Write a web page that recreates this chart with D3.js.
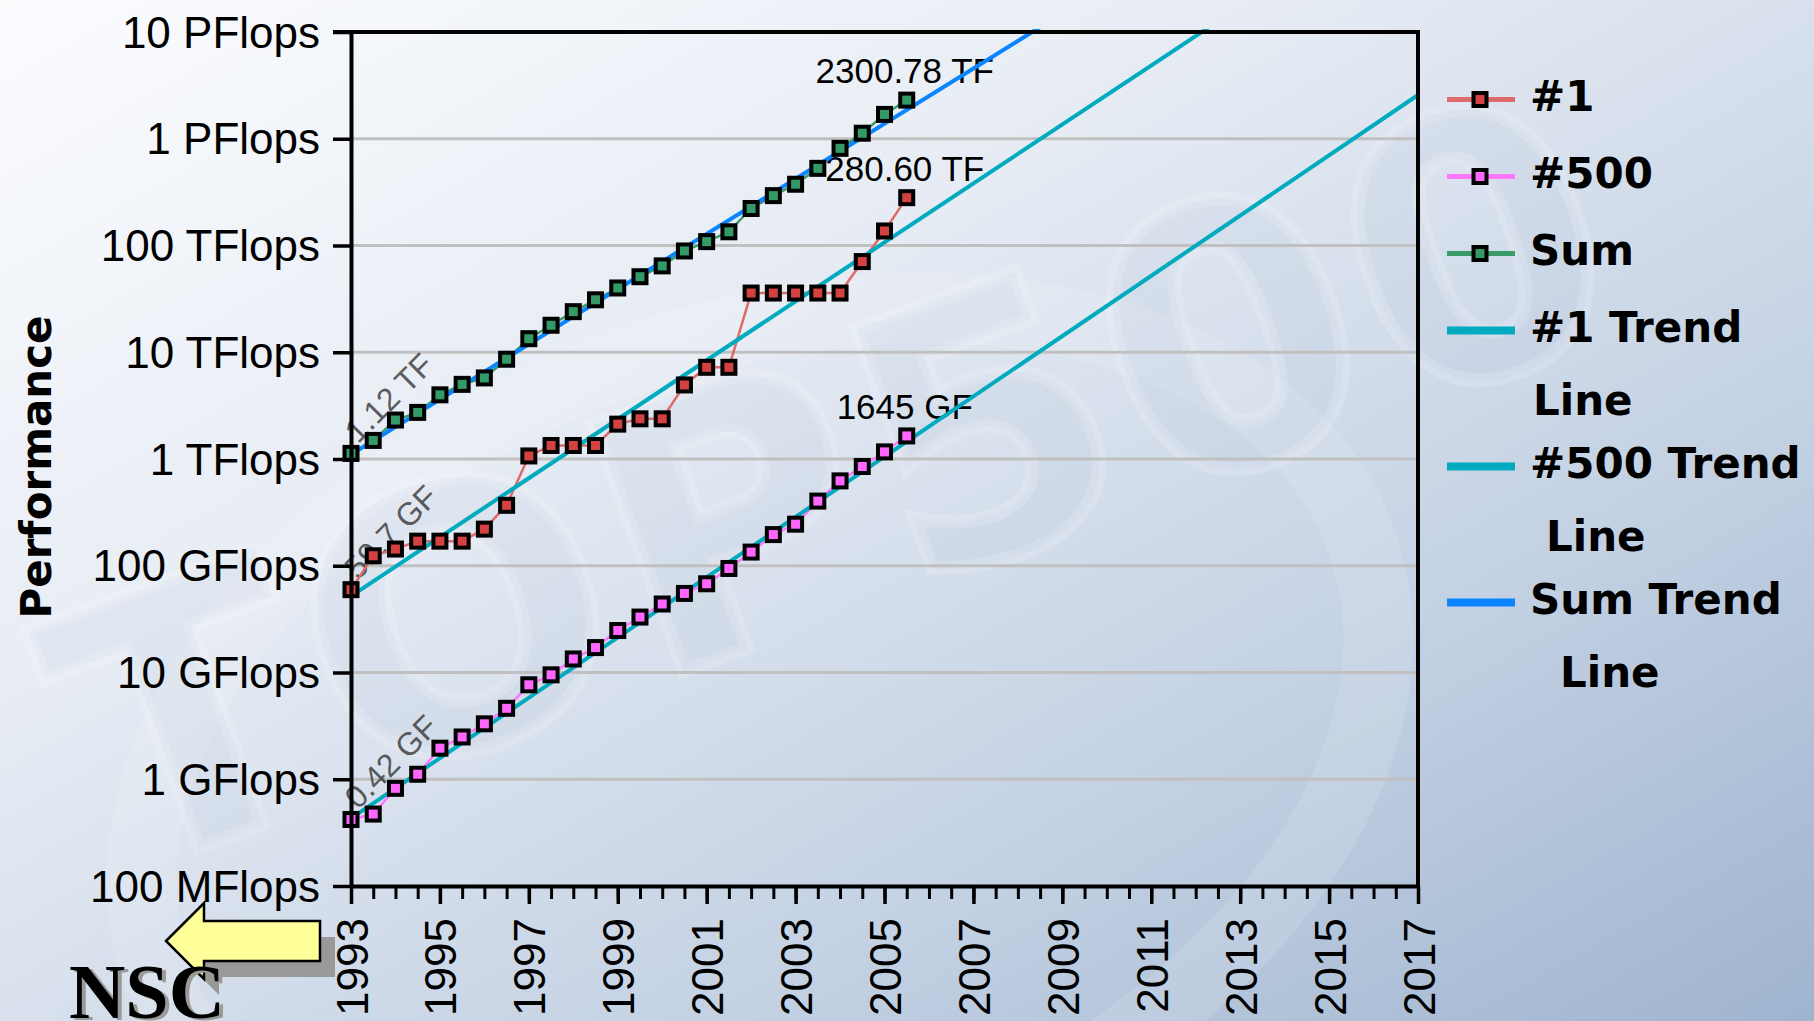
<!DOCTYPE html>
<html>
<head>
<meta charset="utf-8">
<script src="https://cdn.jsdelivr.net/npm/d3@7"></script>
<style>
  html, body { margin: 0; padding: 0; overflow: hidden; background: #e6ecf4; }
  svg { display: block; }
</style>
</head>
<body>
<svg id="chart" width="1814" height="1021"></svg>
<script>
// TOP500 performance development, half-yearly lists June 1993 – November 2005.
// All performance values are in GFlops.
const listYears = [1993, 1993.5, 1994, 1994.5, 1995, 1995.5, 1996, 1996.5, 1997, 1997.5,
                   1998, 1998.5, 1999, 1999.5, 2000, 2000.5, 2001, 2001.5, 2002, 2002.5,
                   2003, 2003.5, 2004, 2004.5, 2005, 2005.5];

const rank1Values = [59.7, 124.0, 143.4, 170.0, 170.0, 170.0, 220.4, 368.2, 1068, 1338,
                     1338, 1338, 2121, 2379, 2379, 4938, 7226, 7226, 35860, 35860,
                     35860, 35860, 35860, 70720, 136800, 280600];

const rank500Values = [0.42, 0.472, 0.822, 1.114, 1.955, 2.489, 3.306, 4.620, 7.670, 9.513,
                       13.39, 17.12, 24.73, 33.08, 43.82, 55.06, 67.78, 94.30, 134.3, 195.8,
                       245.1, 403.4, 624.0, 850.6, 1166, 1645];

const sumValues = [1128, 1493, 2317, 2732, 3992, 5003, 5747, 8600, 13400, 17900,
                   24000, 31000, 40000, 51000, 64400, 88900, 108700, 134400, 222200, 293200,
                   374900, 528100, 813100, 1127000, 1690000, 2300780];

// Exponential trend lines, given by their values at both ends of the time axis
const rank1Trend = [[1993, 52], [2017, 2.2e8]];
const rank500Trend = [[1993, 0.43], [2017, 2.57e6]];
const sumTrend = [[1993, 1100], [2017, 1.74e9]];

// Labels on the first and last list of each series
const firstLabels = ["59.7 GF", "0.42 GF", "1.12 TF"];
const lastLabels = ["280.60 TF", "1645 GF", "2300.78 TF"];

// Axis ticks
const yTickValues = [0.1, 1, 10, 100, 1e3, 1e4, 1e5, 1e6, 1e7];
const yTickLabels = ["100 MFlops", "1 GFlops", "10 GFlops", "100 GFlops", "1 TFlops",
                     "10 TFlops", "100 TFlops", "1 PFlops", "10 PFlops"];
const xMajorTicks = [1993, 1995, 1997, 1999, 2001, 2003, 2005, 2007, 2009, 2011, 2013, 2015, 2017];

const series = [
  { name: "#1",   values: rank1Values,   fill: "#d34141", line: "#df6a6a" },
  { name: "#500", values: rank500Values, fill: "#ff66ff", line: "#ff77ff" },
  { name: "Sum",  values: sumValues,     fill: "#339966", line: "#3a9a6a" }
];
const trends = [
  { name: "#1 Trend Line",   pts: rank1Trend,   color: "#00aabf" },
  { name: "#500 Trend Line", pts: rank500Trend, color: "#00aabf" },
  { name: "Sum Trend Line",  pts: sumTrend,     color: "#0a84ff" }
];

const svg = d3.select("#chart");
const W = 1814, H = 1021;
const plot = { left: 351, right: 1418, top: 32, bottom: 886 };

const x = d3.scaleLinear().domain([1993, 2017]).range([plot.left, plot.right]);
const y = d3.scaleLog().domain([0.1, 1e7]).range([plot.bottom, plot.top]);

const defs = svg.append("defs");

// Slide background
const bg = defs.append("linearGradient").attr("id", "bg")
  .attr("x1", 0).attr("y1", 0).attr("x2", 1).attr("y2", 1);
bg.append("stop").attr("offset", 0).attr("stop-color", "#fbfcfe");
bg.append("stop").attr("offset", 0.35).attr("stop-color", "#e7ecf4");
bg.append("stop").attr("offset", 0.7).attr("stop-color", "#c3d1e3");
bg.append("stop").attr("offset", 1).attr("stop-color", "#9fb4cf");
svg.append("rect").attr("width", W).attr("height", H).attr("fill", "url(#bg)");

// Faint logo ring and lettering in the background
svg.append("ellipse")
  .attr("cx", 760).attr("cy", 760).attr("rx", 640).attr("ry", 420)
  .attr("transform", "rotate(-20 760 760)")
  .attr("fill", "none").attr("stroke", "#ffffff").attr("stroke-opacity", 0.12)
  .attr("stroke-width", 70);
svg.append("text")
  .attr("transform", "translate(880,600) rotate(-20)")
  .attr("text-anchor", "middle")
  .attr("font-family", "DejaVu Sans, sans-serif").attr("font-weight", "bold")
  .attr("font-size", 360).attr("letter-spacing", 10)
  .attr("fill", "#9fb3cd").attr("fill-opacity", 0.1)
  .attr("stroke", "#ffffff").attr("stroke-opacity", 0.16).attr("stroke-width", 14)
  .text("TOP500");

// Clip for trend lines
defs.append("clipPath").attr("id", "plotClip").append("rect")
  .attr("x", plot.left).attr("y", plot.top - 3)
  .attr("width", plot.right - plot.left + 3).attr("height", plot.bottom - plot.top + 3);

// Horizontal grid
svg.append("g").selectAll("line")
  .data(yTickValues.slice(1, -1))
  .join("line")
  .attr("x1", plot.left).attr("x2", plot.right)
  .attr("y1", d => y(d)).attr("y2", d => y(d))
  .attr("stroke", "#c0c0c0").attr("stroke-width", 3);

// Value labels at the first and last list
const labelLayer = svg.append("g").attr("font-family", "Liberation Sans, Arial, sans-serif");
series.forEach((s, i) => {
  const v0 = s.values[0];
  labelLayer.append("text")
    .attr("transform", `translate(${x(listYears[0]) + 7},${y(v0) - 9}) rotate(-45)`)
    .attr("font-size", 32).attr("fill", "#333").attr("fill-opacity", 0.8)
    .text(firstLabels[i]);
  const n = s.values.length - 1;
  labelLayer.append("text")
    .attr("x", x(listYears[n]) - 2).attr("y", y(s.values[n]) - 17)
    .attr("text-anchor", "middle").attr("font-size", 35).attr("fill", "#000")
    .text(lastLabels[i]);
});

// Series lines
const line = d3.line().x((d, i) => x(listYears[i])).y(d => y(d));
svg.append("g").selectAll("path")
  .data(series)
  .join("path")
  .attr("d", d => line(d.values))
  .attr("fill", "none")
  .attr("stroke", d => d.line).attr("stroke-width", 2.5);

// Trend lines
const trendLine = d3.line().x(d => x(d[0])).y(d => y(d[1]));
svg.append("g").attr("clip-path", "url(#plotClip)").selectAll("path")
  .data(trends)
  .join("path")
  .attr("d", d => trendLine(d.pts))
  .attr("fill", "none")
  .attr("stroke", d => d.color).attr("stroke-width", 4);

// Markers
series.forEach(s => {
  svg.append("g").selectAll("rect")
    .data(s.values)
    .join("rect")
    .attr("x", (d, i) => x(listYears[i]) - 6.5)
    .attr("y", d => y(d) - 6.5)
    .attr("width", 13).attr("height", 13)
    .attr("fill", s.fill).attr("stroke", "#000").attr("stroke-width", 4);
});

// Y axis
const yAxis = svg.append("g")
  .attr("transform", `translate(${plot.left},0)`)
  .call(d3.axisLeft(y).tickValues(yTickValues)
    .tickFormat((d, i) => yTickLabels[i]).tickSize(18).tickSizeOuter(0).tickPadding(13));
yAxis.select(".domain").attr("stroke", "#000").attr("stroke-width", 4);
yAxis.selectAll(".tick line").attr("stroke", "#000").attr("stroke-width", 3.5);
yAxis.selectAll(".tick text")
  .attr("font-family", "Liberation Sans, Arial, sans-serif")
  .attr("font-size", 44).attr("fill", "#000")
  .attr("dy", 15);

// X axis: half-year minor ticks and labelled two-year ticks
const xMinor = svg.append("g")
  .attr("transform", `translate(0,${plot.bottom})`)
  .call(d3.axisBottom(x).tickValues(d3.range(1993, 2017.01, 0.5))
    .tickSize(13).tickSizeOuter(0).tickFormat(""));
xMinor.select(".domain").remove();
xMinor.selectAll(".tick line").attr("stroke", "#000").attr("stroke-width", 3);

const xAxis = svg.append("g")
  .attr("transform", `translate(0,${plot.bottom})`)
  .call(d3.axisBottom(x).tickValues(xMajorTicks).tickFormat(d3.format("d"))
    .tickSize(18).tickSizeOuter(0));
xAxis.select(".domain").attr("stroke", "#000").attr("stroke-width", 4);
xAxis.selectAll(".tick line").attr("stroke", "#000").attr("stroke-width", 3.5);
xAxis.selectAll(".tick text")
  .attr("x", 0).attr("y", 0).attr("dy", 0)
  .attr("transform", "translate(16,32) rotate(-90)")
  .attr("text-anchor", "end")
  .attr("font-family", "Liberation Sans, Arial, sans-serif")
  .attr("font-size", 44).attr("fill", "#000");

// Top and right frame
svg.append("path")
  .attr("d", `M${plot.left - 18},${plot.top}H${plot.right}V${plot.bottom}`)
  .attr("fill", "none").attr("stroke", "#000").attr("stroke-width", 4);

// Y axis title
svg.append("text")
  .attr("transform", `translate(51,${(plot.top + plot.bottom) / 2 + 8}) rotate(-90)`)
  .attr("text-anchor", "middle")
  .attr("font-family", "DejaVu Sans, sans-serif").attr("font-weight", "bold")
  .attr("font-size", 42).attr("fill", "#000")
  .text("Performance");

// Legend
const legendItems = [
  { lines: ["#1"], color: series[0].line, marker: series[0].fill },
  { lines: ["#500"], color: series[1].line, marker: series[1].fill },
  { lines: ["Sum"], color: series[2].line, marker: series[2].fill },
  { lines: ["#1 Trend", "Line"], color: trends[0].color, indent: 3 },
  { lines: ["#500 Trend", "Line"], color: trends[1].color, indent: 16 },
  { lines: ["Sum Trend", "Line"], color: trends[2].color, indent: 30 }
];
const legend = svg.append("g")
  .attr("font-family", "DejaVu Sans, sans-serif").attr("font-weight", "bold")
  .attr("font-size", 42).attr("fill", "#000");
let ly = 111;
legendItems.forEach(item => {
  const cy = ly - 11.5;
  legend.append("line")
    .attr("x1", 1447).attr("x2", 1515).attr("y1", cy).attr("y2", cy)
    .attr("stroke", item.color).attr("stroke-width", item.marker ? 5 : 8);
  if (item.marker) {
    legend.append("rect")
      .attr("x", 1480 - 6.5).attr("y", cy - 6.5).attr("width", 13).attr("height", 13)
      .attr("fill", item.marker).attr("stroke", "#000").attr("stroke-width", 4);
  }
  item.lines.forEach((t, k) => {
    legend.append("text")
      .attr("x", 1530 + (k ? item.indent : 0)).attr("y", ly + k * 73)
      .text(t);
  });
  ly += item.lines.length === 1 ? 77 : 136;
});

// NSC mark with arrow
const arrowPts = [[166, 941], [204, 903], [204, 921], [320, 921], [320, 961], [204, 961], [204, 979]];
svg.append("polygon")
  .attr("points", arrowPts.map(p => [p[0] + 15, p[1] + 16].join(",")).join(" "))
  .attr("fill", "#999999");
svg.append("polygon")
  .attr("points", arrowPts.map(p => p.join(",")).join(" "))
  .attr("fill", "#ffff99").attr("stroke", "#000").attr("stroke-width", 2.5)
  .attr("stroke-linejoin", "miter");
svg.append("text")
  .attr("x", 73).attr("y", 1020)
  .attr("font-family", "Liberation Serif, Times New Roman, serif").attr("font-weight", "bold")
  .attr("font-size", 78).attr("fill", "#9a9a9a")
  .text("NSC");
svg.append("text")
  .attr("x", 69).attr("y", 1018)
  .attr("font-family", "Liberation Serif, Times New Roman, serif").attr("font-weight", "bold")
  .attr("font-size", 78).attr("fill", "#000")
  .text("NSC");
</script>
</body>
</html>
